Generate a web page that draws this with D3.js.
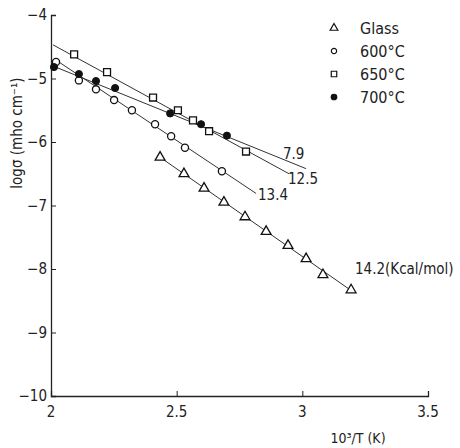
<!DOCTYPE html>
<html lang="en">
<head>
<meta charset="UTF-8">
<title>log conductivity vs 1000/T</title>
<script src="https://cdn.jsdelivr.net/npm/d3@7"></script>
<style>
  body { margin: 0; background: #fff; }
  text { font-family: "DejaVu Sans Condensed", "Liberation Sans Narrow", sans-serif; fill: #222; }
</style>
</head>
<body>
<svg width="460" height="448"></svg>
<script>
// data: x = 10^3/T (K), y = log sigma
var glassX = [2.434, 2.529, 2.609, 2.688, 2.772, 2.856, 2.943, 3.015, 3.082, 3.194];
var glassY = [-6.24, -6.50, -6.73, -6.95, -7.18, -7.41, -7.63, -7.84, -8.09, -8.33];
var c600X = [2.020, 2.111, 2.179, 2.251, 2.322, 2.414, 2.478, 2.533, 2.680];
var c600Y = [-4.74, -5.03, -5.17, -5.34, -5.50, -5.72, -5.91, -6.09, -6.46];
var c650X = [2.092, 2.223, 2.406, 2.505, 2.565, 2.629, 2.776];
var c650Y = [-4.62, -4.90, -5.30, -5.50, -5.66, -5.83, -6.15];
var c700X = [2.012, 2.111, 2.179, 2.255, 2.474, 2.597, 2.700];
var c700Y = [-4.82, -4.93, -5.04, -5.15, -5.55, -5.72, -5.90];

// fitted lines [x1, y1, x2, y2] and activation energy labels
var fitGlass = [2.434, -6.24, 3.202, -8.36];
var fit600 = [2.020, -4.71, 2.816, -6.81];
var fit650 = [2.008, -4.47, 2.947, -6.50];
var fit700 = [2.012, -4.81, 3.015, -6.42];
var fitLabels = ["14.2(Kcal/mol)", "13.4", "12.5", "7.9"];

var xTicks = [2, 2.5, 3, 3.5];
var xTickLabels = ["2", "2.5", "3", "3.5"];
var yTicks = [-4, -5, -6, -7, -8, -9, -10];
var legendNames = ["Glass", "600°C", "650°C", "700°C"];

var svg = d3.select("svg");
var x = d3.scaleLinear().domain([2, 3.5]).range([51, 428]);
var y = d3.scaleLinear().domain([-4, -10]).range([15, 396]);

// axes
svg.append("g")
    .attr("transform", "translate(0,396)")
    .call(d3.axisTop(x).tickValues(xTicks).tickSize(5).tickFormat(""))
    .call(g => g.select(".domain").attr("stroke", "#222").attr("stroke-width", 1.3))
    .call(g => g.selectAll(".tick line").attr("stroke", "#222"));
svg.append("g")
    .attr("transform", "translate(51,0)")
    .call(d3.axisRight(y).tickValues(yTicks).tickSize(5).tickFormat(""))
    .call(g => g.select(".domain").attr("stroke", "#222").attr("stroke-width", 1.3))
    .call(g => g.selectAll(".tick line").attr("stroke", "#222"));

svg.selectAll(".xl").data(xTicks).enter().append("text")
    .attr("x", d => x(d)).attr("y", 417)
    .attr("text-anchor", "middle").attr("font-size", 15)
    .text((d, i) => xTickLabels[i]);
svg.selectAll(".yl").data(yTicks).enter().append("text")
    .attr("x", 47).attr("y", d => y(d) + 5)
    .attr("text-anchor", "end").attr("font-size", 15)
    .text(d => "\u2212" + Math.abs(d));

svg.append("text").attr("x", 358).attr("y", 443)
    .attr("text-anchor", "middle").attr("font-size", 14)
    .text("10³/T (K)");
svg.append("text")
    .attr("transform", "translate(22,133) rotate(-90)")
    .attr("text-anchor", "middle").attr("font-size", 15)
    .text("logσ (mho cm⁻¹)");

// fitted lines
var fits = [fitGlass, fit600, fit650, fit700];
svg.selectAll(".fit").data(fits).enter().append("line")
    .attr("x1", d => x(d[0])).attr("y1", d => y(d[1]))
    .attr("x2", d => x(d[2])).attr("y2", d => y(d[3]))
    .attr("stroke", "#333").attr("stroke-width", 1);

var labelPos = [[355, 274], [258, 200], [288, 184], [283, 159]];
svg.selectAll(".fl").data(fitLabels).enter().append("text")
    .attr("x", (d, i) => labelPos[i][0]).attr("y", (d, i) => labelPos[i][1])
    .attr("font-size", 15).text(d => d);

// markers
var tri = d3.symbol().type(d3.symbolTriangle).size(42);
var sq = d3.symbol().type(d3.symbolSquare).size(48);
var circ = d3.symbol().type(d3.symbolCircle).size(40);

function pts(xs, ys) { return xs.map((v, i) => [v, ys[i]]); }

svg.selectAll(".g").data(pts(glassX, glassY)).enter().append("path")
    .attr("d", tri).attr("transform", d => "translate(" + x(d[0]) + "," + y(d[1]) + ")")
    .attr("fill", "#fff").attr("stroke", "#111").attr("stroke-width", 1.3);
svg.selectAll(".c6").data(pts(c600X, c600Y)).enter().append("path")
    .attr("d", circ).attr("transform", d => "translate(" + x(d[0]) + "," + y(d[1]) + ")")
    .attr("fill", "#fff").attr("stroke", "#111").attr("stroke-width", 1.3);
svg.selectAll(".c65").data(pts(c650X, c650Y)).enter().append("path")
    .attr("d", sq).attr("transform", d => "translate(" + x(d[0]) + "," + y(d[1]) + ")")
    .attr("fill", "#fff").attr("stroke", "#111").attr("stroke-width", 1.3);
svg.selectAll(".c7").data(pts(c700X, c700Y)).enter().append("path")
    .attr("d", circ).attr("transform", d => "translate(" + x(d[0]) + "," + y(d[1]) + ")")
    .attr("fill", "#111").attr("stroke", "#111").attr("stroke-width", 1);

// legend
var legSyms = [
  {s: d3.symbol().type(d3.symbolTriangle).size(26), fill: "#fff"},
  {s: d3.symbol().type(d3.symbolCircle).size(22), fill: "#fff"},
  {s: d3.symbol().type(d3.symbolSquare).size(30), fill: "#fff"},
  {s: d3.symbol().type(d3.symbolCircle).size(24), fill: "#111"}
];
var leg = svg.selectAll(".leg").data(legendNames).enter().append("g")
    .attr("transform", (d, i) => "translate(334," + (28 + i * 23) + ")");
leg.append("path").attr("d", (d, i) => legSyms[i].s())
    .attr("fill", (d, i) => legSyms[i].fill).attr("stroke", "#111").attr("stroke-width", 1.2);
leg.append("text").attr("x", 26).attr("y", 6).attr("font-size", 16).text(d => d);
</script>
</body>
</html>
